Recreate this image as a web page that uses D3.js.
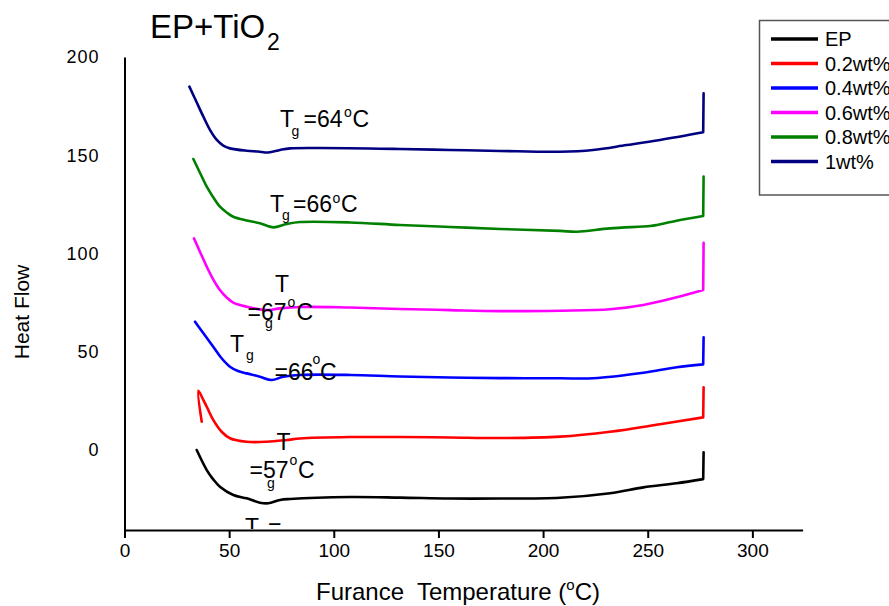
<!DOCTYPE html>
<html>
<head>
<meta charset="utf-8">
<script src="https://cdn.jsdelivr.net/npm/d3@7"></script>
<style>
  html, body { margin: 0; padding: 0; background: #fff; }
  svg { display: block; font-family: "Liberation Sans", Arial, sans-serif; }
</style>
</head>
<body>
<svg id="chart" width="889" height="606"></svg>
<script>
// ---------------- DATA ----------------
const seriesNames = ["EP", "0.2wt%", "0.4wt%", "0.6wt%", "0.8wt%", "1wt%"];
const seriesColors = ["#000000", "#ff0000", "#0000ff", "#ff00ff", "#008000", "#000080"];

const xTicks = [0, 50, 100, 150, 200, 250, 300];
const yTicks = [0, 50, 100, 150, 200];

// [temperature, heat flow]
const ep = [[34.5,0],[39.3,-10.2],[42.3,-14.8],[45.6,-18.7],[52.0,-22.9],[58.4,-24.6],[64.7,-26.8],[68.7,-27.1],[74.3,-25.4],[79.1,-24.9],[107.7,-23.9],[131.6,-24.2],[155.5,-24.7],[179.4,-24.7],[208.1,-24.3],[232.0,-22.0],[247.9,-19.0],[263.8,-16.9],[276.5,-14.8],[276.7,-1.2]];
const wt02 = [[36.9,14.4],[35.3,30.2],[37.7,25.4],[39.3,22.0],[42.4,15.3],[46.4,9.3],[50.4,6.0],[58.4,4.2],[67.9,4.2],[77.5,5.1],[83.9,5.9],[107.7,6.6],[131.6,6.6],[155.5,6.4],[179.4,6.1],[208.1,6.8],[232.0,9.3],[255.9,13.1],[276.5,16.6],[276.7,31.9]];
const wt04 = [[33.7,65.3],[37.7,59.4],[42.4,52.6],[46.4,46.7],[50.4,42.4],[54.2,40.2],[58.4,39.0],[64.7,37.3],[70.3,35.6],[75.9,37.3],[83.9,38.2],[107.7,38.2],[131.6,37.4],[155.5,36.9],[179.4,36.6],[208.1,36.5],[224.0,36.5],[247.9,39.3],[263.8,42.1],[276.5,43.6],[276.7,57.4]];
const wt06 = [[33.2,107.7],[36.1,100.8],[39.3,93.3],[42.3,87.0],[45.6,81.4],[48.8,77.6],[52.0,75.0],[58.4,72.9],[67.9,71.2],[74.3,72.1],[83.9,72.8],[107.7,72.5],[131.6,71.8],[155.5,71.2],[179.4,70.7],[208.1,70.9],[232.0,71.6],[247.9,73.8],[263.8,77.7],[276.5,81.4],[276.7,105.5]];
const wt08 = [[32.9,148.1],[36.1,141.0],[39.3,134.0],[42.3,128.8],[45.6,123.8],[48.8,120.9],[52.0,118.7],[58.4,116.8],[64.7,115.4],[71.1,113.3],[77.5,115.0],[83.9,116.0],[107.7,115.8],[131.6,114.5],[155.5,113.5],[179.4,112.5],[208.1,111.5],[216.1,111.1],[232.0,112.8],[251.1,114.0],[254.3,114.5],[263.8,116.7],[276.5,119.1],[276.7,139.1]];
const wt10 = [[31.0,184.9],[34.2,177.6],[37.7,169.6],[40.9,162.8],[44.1,157.8],[47.2,154.9],[50.4,153.5],[58.4,152.3],[63.8,151.9],[68.7,151.4],[74.3,152.7],[79.1,153.5],[93.4,153.7],[131.6,153.2],[155.5,152.7],[179.4,152.2],[208.1,151.8],[223.8,152.7],[239.9,155.2],[255.9,157.8],[276.5,161.7],[276.7,181.5]];
const seriesData = [ep, wt02, wt04, wt06, wt08, wt10];

// ---------------- LAYOUT ----------------
const svg = d3.select("#chart");
const x = d3.scaleLinear().domain([0, 324]).range([124.5, 802.6]);
const y = d3.scaleLinear().domain([-40.7, 200]).range([530, 57]);

// axes
const gx = svg.append("g").attr("transform", "translate(0,530)")
  .call(d3.axisBottom(x).tickValues(xTicks).tickSize(8).tickSizeOuter(0).tickPadding(6));
gx.select(".domain").attr("stroke", "#000").attr("stroke-width", 2);
gx.selectAll(".tick line").attr("stroke", "#000").attr("stroke-width", 2);
gx.selectAll(".tick text").attr("font-size", 19).attr("fill", "#000")
  .attr("font-family", "Liberation Sans, Arial, sans-serif");

const gy = svg.append("g").attr("transform", "translate(124.5,0)")
  .call(d3.axisLeft(y).tickValues(yTicks).tickSize(0).tickSizeOuter(0).tickPadding(25));
gy.select(".domain").attr("stroke", "#000").attr("stroke-width", 2);
gy.selectAll(".tick text").attr("font-size", 18).attr("fill", "#000")
  .attr("font-family", "Liberation Sans, Arial, sans-serif").attr("letter-spacing", 1);

// curves: smooth body, straight final vertical jump
const smooth = d3.line().x(d => x(d[0])).y(d => y(d[1])).curve(d3.curveCatmullRom.alpha(0.5));
function curvePath(d) {
  const body = d.slice(0, -1);
  const last = d[d.length - 1];
  return smooth(body) + "L" + x(last[0]) + "," + y(last[1]);
}
svg.append("g").selectAll("path").data(seriesData).join("path")
  .attr("d", curvePath).attr("fill", "none")
  .attr("stroke", (d, i) => seriesColors[i])
  .attr("stroke-width", 2.6).attr("stroke-linejoin", "round").attr("stroke-linecap", "round");

// text helper
function txt(px, py, s, size, opts) {
  const t = svg.append("text").attr("x", px).attr("y", py).attr("font-size", size)
    .attr("fill", "#000").text(s);
  if (opts && opts.clip) t.attr("clip-path", opts.clip);
  return t;
}

// title
txt(150, 38, "EP+TiO", 33);
txt(267, 50, "2", 23);

// annotations
const M = 23, S = 14;
// 1wt%
txt(280, 127, "T", M); txt(291.5, 135.5, "g", S); txt(303.5, 127, "=64", M); txt(344, 117, "o", S); txt(352.5, 127, "C", M);
// 0.8wt%
txt(270, 212, "T", M); txt(282, 220, "g", S); txt(293, 212, "=66", M); txt(332.5, 203, "o", S); txt(341, 212, "C", M);
// 0.6wt%
txt(275, 291.7, "T", M); txt(247.5, 320, "=67", M); txt(265, 327.5, "g", S); txt(287.5, 306.5, "o", S); txt(296.5, 320, "C", M);
// 0.4wt%
txt(230, 351.7, "T", M); txt(246, 360, "g", S); txt(274.5, 380, "=66", M); txt(312.5, 363.5, "o", S); txt(320, 380, "C", M);
// 0.2wt% / EP
txt(276.5, 450, "T", M); txt(249.5, 478, "=57", M); txt(267, 487.5, "g", S); txt(289.5, 465, "o", S); txt(298, 478, "C", M);
// clipped label at bottom
svg.append("clipPath").attr("id", "plotclip").append("rect").attr("x", 0).attr("y", 0).attr("width", 889).attr("height", 529);
txt(245, 535, "T", M, {clip: "url(#plotclip)"});
txt(268, 535, "=", M, {clip: "url(#plotclip)"});

// axis titles
const xt = svg.append("text").attr("x", 458).attr("y", 600).attr("text-anchor", "middle")
  .attr("font-size", 24).attr("fill", "#000").style("white-space", "pre");
xt.append("tspan").text("Furance  Temperature (");
xt.append("tspan").attr("font-size", 15).attr("dy", -10).text("o");
xt.append("tspan").attr("dy", 10).text("C)");

svg.append("text").attr("transform", "translate(29,312) rotate(-90)")
  .attr("text-anchor", "middle").attr("font-size", 21).attr("fill", "#000").text("Heat Flow");

// legend
const lg = svg.append("g");
lg.append("rect").attr("x", 759.5).attr("y", 20.5).attr("width", 160).attr("height", 174.5)
  .attr("fill", "#fff").attr("stroke", "#555").attr("stroke-width", 1.5);
seriesNames.forEach((n, i) => {
  const yy = 39 + i * 24.5;
  lg.append("line").attr("x1", 771).attr("x2", 818).attr("y1", yy).attr("y2", yy)
    .attr("stroke", seriesColors[i]).attr("stroke-width", 3.5);
  lg.append("text").attr("x", 825).attr("y", yy).attr("dy", "0.36em")
    .attr("font-size", 20).attr("fill", "#000").text(n);
});
</script>
</body>
</html>
